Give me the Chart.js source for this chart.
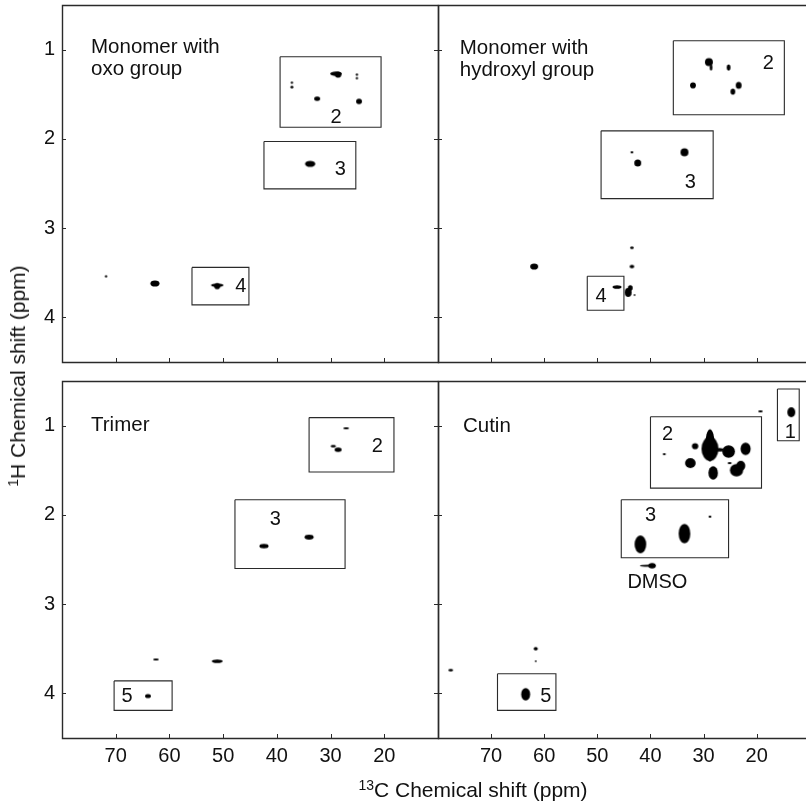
<!DOCTYPE html>
<html>
<head>
<meta charset="utf-8">
<script src="https://cdn.jsdelivr.net/npm/chart.js@4.4.1/dist/chart.umd.min.js"></script>
<style>
body { margin: 0; background: #fff; }
#wrap { position: relative; width: 808px; height: 806px; overflow: hidden; font-family: "Liberation Sans", Arial, sans-serif; color: #111; }
#wrap canvas { position: absolute; left: 0; top: 0; }
.xtitle { position: absolute; left: 473px; top: 778px; font-size: 21px; line-height: 24px; white-space: nowrap; transform: translateX(-50%); }
.ytitle { position: absolute; left: 18px; top: 376px; font-size: 21px; line-height: 24px; white-space: nowrap; transform: translate(-50%, -50%) rotate(-90deg); }
sup { font-size: 14px; line-height: 0; vertical-align: 7px; }
</style>
</head>
<body>
<div id="wrap">
  <canvas id="oxo" width="808" height="806"></canvas>
  <canvas id="hydroxyl" width="808" height="806"></canvas>
  <canvas id="trimer" width="808" height="806"></canvas>
  <canvas id="cutin" width="808" height="806"></canvas>
  <div class="xtitle"><sup>13</sup>C Chemical shift (ppm)</div>
  <div class="ytitle"><sup>1</sup>H Chemical shift (ppm)</div>
</div>
<script>
// axes (ppm)
const cTicks = [70, 60, 50, 40, 30, 20];
const hTicks = [1, 2, 3, 4];

// peaks: [13C ppm, 1H ppm, 13C extent, 1H extent]
const oxoPeaks = [
  [29.0, 1.27, 2.2, 0.05], [28.6, 1.28, 1.2, 0.07],
  [25.1, 1.28, 0.4, 0.03], [25.1, 1.32, 0.4, 0.03],
  [37.2, 1.37, 0.4, 0.03], [37.2, 1.42, 0.6, 0.03],
  [32.5, 1.55, 1.1, 0.05], [24.7, 1.58, 1.1, 0.06],
  [33.8, 2.28, 1.9, 0.07],
  [51.1, 3.64, 2.3, 0.04], [51.1, 3.65, 1.1, 0.07],
  [62.7, 3.62, 1.7, 0.07], [71.8, 3.54, 0.4, 0.03]
];
const hydroxylPeaks = [
  [29.0, 1.14, 1.5, 0.09], [28.6, 1.20, 0.5, 0.07],
  [25.3, 1.20, 0.7, 0.07], [32.0, 1.40, 1.1, 0.07],
  [23.4, 1.40, 1.1, 0.08], [24.5, 1.47, 0.9, 0.07],
  [33.6, 2.15, 1.5, 0.09], [42.4, 2.27, 1.3, 0.08], [43.5, 2.15, 0.6, 0.02],
  [61.9, 3.43, 1.5, 0.07], [43.5, 3.22, 0.7, 0.03], [43.5, 3.43, 0.9, 0.04],
  [46.3, 3.66, 1.7, 0.04], [44.2, 3.72, 1.3, 0.10], [43.8, 3.67, 0.9, 0.06],
  [43.0, 3.75, 0.3, 0.02]
];
const trimerPeaks = [
  [27.1, 1.03, 1.1, 0.02], [29.5, 1.23, 1.0, 0.03], [28.6, 1.27, 1.3, 0.05],
  [42.4, 2.35, 1.7, 0.05], [34.0, 2.25, 1.7, 0.055],
  [64.0, 4.03, 1.1, 0.045], [62.5, 3.62, 1.1, 0.02], [51.1, 3.64, 2.0, 0.04]
];
const cutinPeaks = [
  [13.5, 0.85, 1.5, 0.11], [19.3, 0.84, 0.9, 0.02],
  [28.8, 1.26, 3.2, 0.27], [28.8, 1.22, 1.8, 0.36], [27.0, 1.27, 1.6, 0.04],
  [31.6, 1.23, 1.2, 0.07], [25.3, 1.29, 2.4, 0.14], [22.1, 1.26, 1.9, 0.14],
  [32.5, 1.42, 2.0, 0.11], [28.2, 1.53, 1.8, 0.15],
  [23.8, 1.50, 2.5, 0.14], [23.0, 1.45, 1.7, 0.11],
  [25.1, 1.42, 0.8, 0.02], [28.8, 1.08, 0.8, 0.02], [37.4, 1.32, 0.6, 0.02],
  [41.9, 2.33, 2.2, 0.20], [33.6, 2.21, 2.2, 0.22], [28.8, 2.02, 0.6, 0.02],
  [40.5, 2.57, 3.0, 0.025], [39.7, 2.57, 1.4, 0.06],
  [63.5, 4.01, 1.7, 0.14], [77.6, 3.74, 0.9, 0.03],
  [61.6, 3.50, 0.8, 0.04], [61.6, 3.64, 0.3, 0.02]
];

// boxed regions: [13C from, 13C to, 1H from, 1H to]
const oxoBoxes = [[39.4, 20.6, 1.08, 1.87], [42.4, 25.3, 2.03, 2.56], [55.8, 45.2, 3.44, 3.86]];
const hydroxylBoxes = [[35.7, 14.8, 0.90, 1.73], [49.3, 28.2, 1.91, 2.67], [51.9, 45.0, 3.54, 3.92]];
const trimerBoxes = [[34.0, 18.2, 0.91, 1.52], [47.8, 27.3, 1.83, 2.60], [70.3, 59.5, 3.86, 4.19]];
const cutinBoxes = [[16.1, 12.0, 0.59, 1.17], [40.0, 19.1, 0.90, 1.70], [45.5, 25.3, 1.83, 2.48], [68.8, 57.8, 3.78, 4.19]];

// labels: [text, 13C, 1H]
const oxoLabels = [['2', 29.0, 1.76], ['3', 28.2, 2.34], ['4', 46.7, 3.65]];
const hydroxylLabels = [['2', 17.8, 1.16], ['3', 32.5, 2.49], ['4', 49.3, 3.77]];
const trimerLabels = [['2', 21.3, 1.23], ['3', 40.3, 2.05], ['5', 67.9, 4.04]];
const cutinLabels = [['1', 13.7, 1.08], ['2', 36.8, 1.10], ['3', 40.0, 2.01], ['5', 59.7, 4.03], ['DMSO', 38.7, 2.76]];

// panel titles: [lines, 13C, 1H of first baseline]
const oxoTitle = [['Monomer with', 'oxo group'], 74.6, 1.04];
const hydroxylTitle = [['Monomer with', 'hydroxyl group'], 75.9, 1.05];
const trimerTitle = [['Trimer'], 74.6, 1.06];
const cutinTitle = [['Cutin'], 75.3, 1.07];

const FONT = '"Liberation Sans", Arial, sans-serif';
const INK = '#111';
const LINE = '#2a2a2a';

function blobStyle(ctx) {
    if (!ctx.raw) return 'circle';
    const p = ctx.raw;
    const sx = ctx.chart.scales.x, sy = ctx.chart.scales.y;
    const kx = Math.abs(sx.getPixelForValue(0) - sx.getPixelForValue(1));
    const ky = Math.abs(sy.getPixelForValue(0) - sy.getPixelForValue(1));
    const w = Math.max(p.dc * kx, 1.5), h = Math.max(p.dh * ky, 1.5);
    const cv = document.createElement('canvas');
    cv.width = Math.ceil(w) + 2;
    cv.height = Math.ceil(h) + 2;
    const g = cv.getContext('2d');
    g.fillStyle = '#000';
    g.beginPath();
    g.ellipse(cv.width / 2, cv.height / 2, w / 2, h / 2, 0, 0, Math.PI * 2);
    g.fill();
    return cv;
}

const panelPlugin = {
    id: 'panel',
    afterDraw(chart, args, o) {
        const ctx = chart.ctx, a = chart.chartArea;
        const sx = chart.scales.x, sy = chart.scales.y;
        ctx.save();
        // frame
        ctx.strokeStyle = LINE;
        ctx.lineWidth = 1.4;
        ctx.beginPath();
        ctx.moveTo(Math.round(a.right) + (o.right ? 0.5 : 2), Math.round(a.top) + 0.5);
        ctx.lineTo(Math.round(a.left) + 0.5, Math.round(a.top) + 0.5);
        ctx.lineTo(Math.round(a.left) + 0.5, Math.round(a.bottom) + 0.5);
        ctx.lineTo(Math.round(a.right) + (o.right ? 0.5 : 2), Math.round(a.bottom) + 0.5);
        if (o.right) ctx.lineTo(Math.round(a.right) + 0.5, Math.round(a.top) + 0.5);
        ctx.stroke();
        // inner ticks
        ctx.lineWidth = 1;
        ctx.beginPath();
        sx.ticks.forEach(t => {
            const px = Math.round(sx.getPixelForValue(t.value)) + 0.5;
            ctx.moveTo(px, a.bottom);
            ctx.lineTo(px, a.bottom - 4);
        });
        sy.ticks.forEach(t => {
            const py = Math.round(sy.getPixelForValue(t.value)) + 0.5;
            ctx.moveTo(a.left, py);
            ctx.lineTo(a.left + 4, py);
            if (o.right) {
                ctx.moveTo(a.right, py);
                ctx.lineTo(a.right - 4, py);
            }
        });
        ctx.stroke();
        // texts
        ctx.fillStyle = INK;
        ctx.font = '20px ' + FONT;
        ctx.textAlign = 'center';
        ctx.textBaseline = 'middle';
        o.labels.forEach(l => {
            ctx.fillText(l[0], sx.getPixelForValue(l[1]), sy.getPixelForValue(l[2]));
        });
        ctx.font = '20.5px ' + FONT;
        ctx.textAlign = 'left';
        ctx.textBaseline = 'alphabetic';
        const tx = sx.getPixelForValue(o.title[1]), ty = sy.getPixelForValue(o.title[2]);
        o.title[0].forEach((line, i) => ctx.fillText(line, tx, ty + i * 22));
        ctx.restore();
    }
};

function createPanel(id, area, peaks, boxes, labels, title, showX, showY, right, cMin) {
    const yW = showY ? 62 : 0;
    const xH = showX ? 40 : 0;
    const datasets = boxes.map(b => ({
        showLine: true,
        data: [{x: b[0], y: b[2]}, {x: b[1], y: b[2]}, {x: b[1], y: b[3]}, {x: b[0], y: b[3]}, {x: b[0], y: b[2]}],
        borderColor: LINE,
        borderWidth: 1.1,
        pointRadius: 0,
        tension: 0
    }));
    datasets.push({
        data: peaks.map(p => ({x: p[0], y: p[1], dc: p[2], dh: p[3]})),
        pointStyle: blobStyle,
        pointRadius: 3,
        backgroundColor: '#000',
        borderWidth: 0
    });
    const tickFont = {family: FONT, size: 20};
    new Chart(document.getElementById(id), {
        type: 'scatter',
        data: {datasets: datasets},
        options: {
            responsive: false,
            animation: false,
            events: [],
            layout: {padding: {left: area[0] - yW, top: area[1], right: 808 - area[2], bottom: 806 - area[3] - xH}},
            scales: {
                x: {
                    type: 'linear', reverse: true, min: cMin, max: 80,
                    afterBuildTicks: s => { s.ticks = cTicks.map(v => ({value: v})); },
                    afterFit: s => { s.height = xH; s.paddingLeft = 0; s.paddingRight = 0; },
                    ticks: {display: showX, padding: 6, font: tickFont, color: INK},
                    grid: {display: false, drawTicks: false},
                    border: {display: false}
                },
                y: {
                    type: 'linear', reverse: true, min: 0.5, max: 4.5,
                    afterBuildTicks: s => { s.ticks = hTicks.map(v => ({value: v})); },
                    afterFit: s => { s.width = yW; s.paddingTop = 0; s.paddingBottom = 0; },
                    ticks: {display: showY, padding: 7, font: tickFont, color: INK},
                    grid: {display: false, drawTicks: false},
                    border: {display: false}
                }
            },
            plugins: {
                legend: {display: false},
                tooltip: {enabled: false},
                panel: {labels: labels, title: title, right: right}
            }
        },
        plugins: [panelPlugin]
    });
}

createPanel('oxo', [62, 5, 438, 362], oxoPeaks, oxoBoxes, oxoLabels, oxoTitle, false, true, true, 10);
createPanel('hydroxyl', [438, 5, 808, 362], hydroxylPeaks, hydroxylBoxes, hydroxylLabels, hydroxylTitle, false, false, false, 11.1);
createPanel('trimer', [62, 381, 438, 738], trimerPeaks, trimerBoxes, trimerLabels, trimerTitle, true, true, true, 10);
createPanel('cutin', [438, 381, 808, 738], cutinPeaks, cutinBoxes, cutinLabels, cutinTitle, true, false, false, 11.1);
</script>
</body>
</html>
